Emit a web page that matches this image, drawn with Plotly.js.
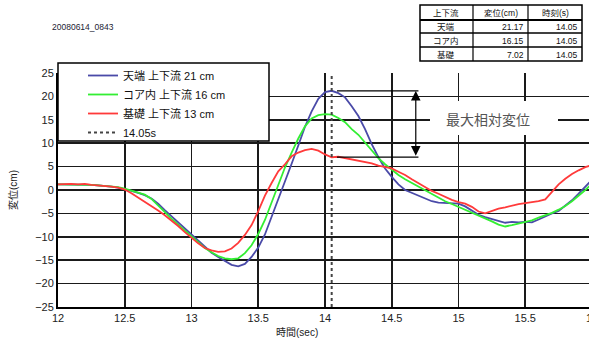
<!DOCTYPE html>
<html><head><meta charset="utf-8">
<script src="https://cdn.plot.ly/plotly-3.0.1.min.js"></script>
<style>html,body{margin:0;padding:0;overflow:hidden;background:#fff;width:589px;height:340px}#chart{width:620px;height:340px}</style>
</head><body><div id="chart"></div>
<script>
// ---- data ----
const timeSec = [12.00,12.05,12.10,12.15,12.20,12.25,12.30,12.35,12.40,12.45,12.50,12.55,12.60,12.65,12.70,12.75,12.80,12.85,12.90,12.95,
13.00,13.05,13.10,13.15,13.20,13.25,13.30,13.35,13.40,13.45,13.50,13.55,13.60,13.65,13.70,13.75,13.80,13.85,13.90,13.95,
14.00,14.05,14.10,14.15,14.20,14.25,14.30,14.35,14.40,14.45,14.50,14.55,14.60,14.65,14.70,14.75,14.80,14.85,14.90,14.95,
15.00,15.05,15.10,15.15,15.20,15.25,15.30,15.35,15.40,15.45,15.50,15.55,15.60,15.65,15.70,15.75,15.80,15.85,15.90,15.95,16.00];
const crest = [1.2,1.2,1.2,1.2,1.1,1.1,1.0,0.9,0.7,0.5,0.2,-0.2,-0.6,-1.1,-1.8,-2.9,-4.3,-5.6,-6.9,-8.3,
-9.6,-11.0,-12.3,-13.4,-14.3,-15.2,-16.0,-16.3,-15.8,-14.3,-12.3,-9.5,-5.8,-2.0,1.8,5.6,9.5,13.5,16.8,19.5,
20.9,21.2,20.7,19.8,17.9,15.8,13.0,9.8,7.0,4.6,2.8,1.2,0.0,-0.6,-1.1,-1.8,-2.4,-2.7,-2.8,-2.8,
-2.9,-3.5,-4.4,-5.3,-5.8,-6.2,-6.6,-7.0,-6.8,-6.9,-6.8,-6.9,-6.3,-5.6,-5.0,-4.5,-3.4,-2.2,-0.8,0.8,2.2];
const core = [1.2,1.2,1.2,1.2,1.1,1.1,1.0,0.9,0.8,0.6,0.3,-0.1,-0.6,-1.0,-1.9,-3.3,-4.9,-6.1,-7.4,-8.7,
-9.8,-11.2,-12.4,-13.3,-14.1,-14.6,-14.8,-14.6,-13.5,-11.8,-9.4,-6.4,-2.6,1.2,4.8,8.0,11.0,13.6,15.3,16.0,
16.2,16.1,15.4,14.5,13.0,11.8,10.2,8.5,6.8,5.5,4.3,3.2,2.3,1.5,0.8,0.0,-0.8,-1.6,-2.4,-3.0,
-3.6,-4.2,-4.8,-5.4,-6.0,-6.7,-7.4,-7.8,-7.5,-7.2,-6.8,-6.5,-5.9,-5.4,-4.9,-4.2,-3.4,-2.4,-1.3,0.0,1.4];
const base = [1.2,1.3,1.3,1.2,1.3,1.1,1.0,0.9,0.7,0.5,0.1,-0.7,-1.6,-2.5,-3.4,-4.4,-5.4,-6.5,-7.7,-9.0,
-10.3,-11.4,-12.4,-12.9,-13.2,-13.1,-12.5,-11.3,-9.6,-7.5,-4.5,-1.2,1.5,4.0,5.5,7.2,8.0,8.5,8.8,8.4,
7.6,7.0,7.1,6.8,6.6,6.2,5.9,5.7,5.2,4.9,4.6,3.9,3.2,2.3,1.5,0.6,-0.2,-0.8,-1.5,-2.1,
-2.6,-2.9,-3.6,-4.6,-5.0,-4.5,-4.0,-3.7,-3.3,-3.0,-2.8,-2.6,-2.4,-2.0,-0.5,1.2,2.4,3.4,4.2,4.9,5.3];
const seriesNames = ['天端 上下流 21 cm','コア内 上下流 16 cm','基礎 上下流 13 cm'];
const markerTime = 14.05;
const markerName = '14.05s';
const tableHeader = ['上下流','変位(cm)','時刻(s)'];
const tableRows = ['天端','コア内','基礎'];
const tableDisp = ['21.17','16.15','7.02'];
const tableTime = ['14.05','14.05','14.05'];
const stampText = '20080614_0843';
const xTitle = '時間(sec)';
const yTitle = '変位(cm)';
const noteText = '最大相対変位';
const xTicks = [12,12.5,13,13.5,14,14.5,15,15.5,16];
const yTicks = [-25,-20,-15,-10,-5,0,5,10,15,20,25];

// ---- layout helpers ----
const M = {l:58, r:28, t:73, b:33}, W = 620, H = 340;
const PW = W - M.l - M.r, PH = H - M.t - M.b;
const px = v => (v - M.l) / PW;          // pixel x -> paper
const py = v => (H - M.b - v) / PH;      // pixel y -> paper
const FONT = 'Liberation Sans, Arial, Noto Sans CJK JP, sans-serif';

const traces = [
  {x: timeSec, y: crest, name: seriesNames[0], mode:'lines', line:{color:'#4a4aa8', width:1.8}},
  {x: timeSec, y: core,  name: seriesNames[1], mode:'lines', line:{color:'#33ee33', width:1.8}},
  {x: timeSec, y: base,  name: seriesNames[2], mode:'lines', line:{color:'#ff3a3a', width:1.8}},
  {x: [markerTime, markerTime], y: [yTicks[0], yTicks[yTicks.length-1]], name: markerName, mode:'lines',
   line:{color:'#444', width:2, dash:'dot'}}
];

const shapes = [];
const annotations = [];
// legend frame
shapes.push({type:'rect', xref:'paper', yref:'paper', x0:px(58), x1:px(269), y0:py(141), y1:py(63),
  fillcolor:'#fff', line:{color:'#000', width:1.5}, layer:'above'});
// white box behind note
shapes.push({type:'rect', xref:'paper', yref:'paper', x0:px(430), x1:px(558), y0:py(135), y1:py(101),
  fillcolor:'#fff', line:{width:0}, layer:'above'});
// max / min guide lines
const dmax = parseFloat(tableDisp[0]), dmin = parseFloat(tableDisp[2]);
[dmax, dmin].forEach(v => shapes.push({type:'line', xref:'x', yref:'y', x0:14.09, x1:14.70, y0:v, y1:v,
  line:{color:'#000', width:1.2}, layer:'above'}));
annotations.push({x:14.68, y:dmax, ax:14.68, ay:dmin, xref:'x', yref:'y', axref:'x', ayref:'y', text:'',
  showarrow:true, arrowside:'end+start', arrowhead:2, arrowsize:1.6, arrowwidth:1.2, arrowcolor:'#000'});
annotations.push({x:15.22, y:15, xref:'x', yref:'y', xanchor:'center', yanchor:'middle', text:noteText, showarrow:false,
  font:{family:FONT, size:14, color:'#555'}});

// table
const cx = [420, 473, 528, 582], ry = [5, 20, 33, 47, 61];
shapes.push({type:'rect', xref:'paper', yref:'paper', x0:px(cx[0]), x1:px(cx[3]), y0:py(ry[4]), y1:py(ry[0]),
  fillcolor:'rgba(0,0,0,0)', line:{color:'#000', width:1.5}});
for (let i = 1; i < 3; i++) shapes.push({type:'line', xref:'paper', yref:'paper', x0:px(cx[i]), x1:px(cx[i]),
  y0:py(ry[4]), y1:py(ry[0]), line:{color:'#000', width:1.2}});
for (let j = 1; j < 4; j++) shapes.push({type:'line', xref:'paper', yref:'paper', x0:px(cx[0]), x1:px(cx[3]),
  y0:py(ry[j]), y1:py(ry[j]), line:{color:'#000', width: j === 1 ? 2 : 1.5}});
const tf = {family:FONT, size:8.5, color:'#111'};
const cell = (x, y, t, xa) => annotations.push({x:px(x), y:py(y), xref:'paper', yref:'paper',
  xanchor:xa, yanchor:'middle', text:t, showarrow:false, font:tf});
tableHeader.forEach((t, i) => cell((cx[i]+cx[i+1])/2, (ry[0]+ry[1])/2 + 0.5, t, 'center'));
tableRows.forEach((t, j) => {
  const yy = (ry[j+1]+ry[j+2])/2 + 0.5;
  cell((cx[0]+cx[1])/2, yy, t, 'center');
  cell(cx[2]-2, yy, tableDisp[j], 'right');
  cell(cx[3]-2, yy, tableTime[j], 'right');
});
// stamp
annotations.push({x:px(50), y:py(27), xref:'paper', yref:'paper', xanchor:'left', yanchor:'middle', text:stampText, showarrow:false,
  font:{family:FONT, size:8.5, color:'#223'}});
// x title
annotations.push({x:px(297), y:py(332), xref:'paper', yref:'paper', xanchor:'center', yanchor:'middle', text:xTitle, showarrow:false,
  font:{family:FONT, size:10, color:'#222'}});

const axisCommon = {showgrid:true, gridcolor:'#1a1a1a', gridwidth:1.6, zeroline:false, showline:true,
  linecolor:'#000', linewidth:2, ticks:'', tickfont:{family:FONT, size:11, color:'#222'}, automargin:false, fixedrange:true};

const layout = {
  width:W, height:H, margin:M, paper_bgcolor:'#fff', plot_bgcolor:'#fff',
  font:{family:FONT},
  xaxis: Object.assign({}, axisCommon, {range:[12,16], tickvals:xTicks, ticktext:xTicks.map(String)}),
  yaxis: Object.assign({}, axisCommon, {range:[-25,25], tickvals:yTicks,
    title:{text:yTitle, font:{family:FONT, size:10, color:'#222'}, standoff:16}}),
  showlegend:true,
  legend:{x:px(83), y:py(61), xanchor:'left', yanchor:'top', bgcolor:'rgba(0,0,0,0)', borderwidth:0,
    font:{family:FONT, size:11, color:'#111'}, tracegroupgap:0},
  shapes: shapes, annotations: annotations
};
Plotly.newPlot('chart', traces, layout, {staticPlot:true, displayModeBar:false});
</script></body></html>
